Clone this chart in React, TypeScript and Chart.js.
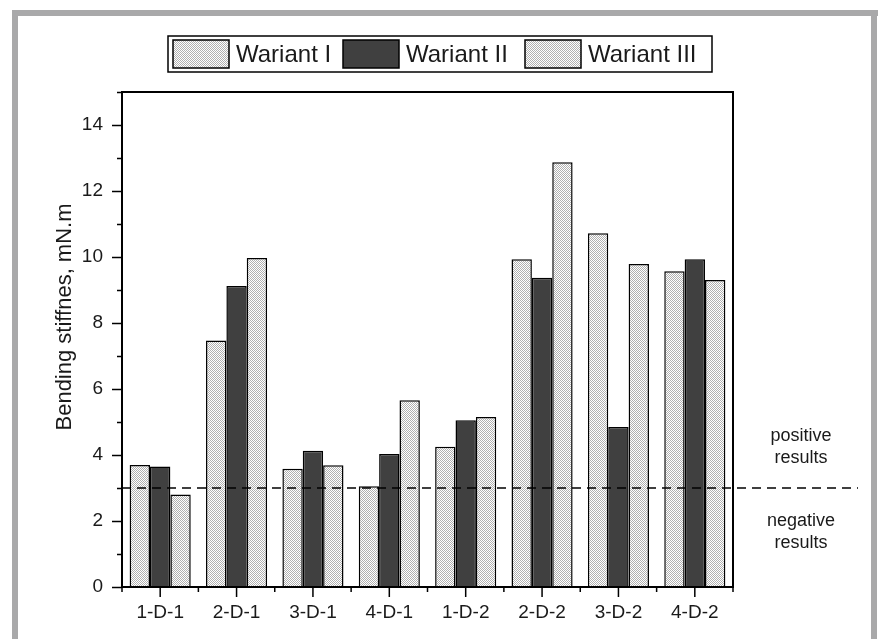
import React, { useEffect, useRef } from "react";
import { Chart, registerables } from "chart.js";

Chart.register(...registerables);

const categories = ["1-D-1", "2-D-1", "3-D-1", "4-D-1", "1-D-2", "2-D-2", "3-D-2", "4-D-2"];
const seriesNames = ["Wariant I", "Wariant II", "Wariant III"];
const wariantI = [3.7, 7.47, 3.58, 3.05, 4.25, 9.93, 10.72, 9.57];
const wariantII = [3.65, 9.12, 4.13, 4.03, 5.05, 9.37, 4.85, 9.93];
const wariantIII = [2.8, 9.97, 3.69, 5.66, 5.15, 12.87, 9.79, 9.3];
const thresholdValue = 3;
const yMax = 15;
const yTickLabels = [0, 2, 4, 6, 8, 10, 12, 14];
const aboveText = ["positive", "results"];
const belowText = ["negative", "results"];
const yTitle = "Bending stiffnes, mN.m";

const FONT = "'Liberation Sans', Arial, Helvetica, sans-serif";

function makePattern(): CanvasPattern | string {
  const c = document.createElement("canvas");
  c.width = 2;
  c.height = 2;
  const g = c.getContext("2d");
  if (!g) return "#d8d8d8";
  g.fillStyle = "#ffffff";
  g.fillRect(0, 0, 2, 2);
  g.fillStyle = "#b0b0b0";
  g.fillRect(0, 0, 1, 1);
  g.fillRect(1, 1, 1, 1);
  const p = g.createPattern(c, "repeat");
  return p || "#d8d8d8";
}

export default function App() {
  const ref = useRef<HTMLCanvasElement | null>(null);

  useEffect(() => {
    if (!ref.current) return;
    const pattern = makePattern();
    const fills = [pattern, "#404040", pattern];
    const values = [wariantI, wariantII, wariantIII];

    const decor = {
      id: "decor",
      afterDatasetsDraw(chart: any) {
        const ctx = chart.ctx;
        const a = chart.chartArea;
        const xs = chart.scales.x;
        const ys = chart.scales.y;
        ctx.save();
        const ty = ys.getPixelForValue(thresholdValue);
        ctx.strokeStyle = "#000";
        ctx.lineWidth = 1.5;
        ctx.setLineDash([9, 6]);
        ctx.beginPath();
        ctx.moveTo(a.left, ty);
        ctx.lineTo(858, ty);
        ctx.stroke();
        ctx.setLineDash([]);
        ctx.lineWidth = 2;
        ctx.strokeRect(a.left, a.top, a.right - a.left, a.bottom - a.top);
        ctx.lineWidth = 1.5;
        ctx.beginPath();
        for (let v = 0; v <= yMax; v++) {
          const y = Math.round(ys.getPixelForValue(v)) + 0.5;
          const len = v % 2 === 0 ? 10 : 5;
          ctx.moveTo(a.left - len, y);
          ctx.lineTo(a.left, y);
        }
        const n = categories.length;
        const band = (a.right - a.left) / n;
        for (let i = 0; i < n; i++) {
          const cx = xs.getPixelForValue(i);
          ctx.moveTo(cx, a.bottom);
          ctx.lineTo(cx, a.bottom + 10);
        }
        for (let i = 0; i <= n; i++) {
          const bx = a.left + i * band;
          ctx.moveTo(bx, a.bottom);
          ctx.lineTo(bx, a.bottom + 5);
        }
        ctx.stroke();
        ctx.restore();
      },
      afterDraw(chart: any) {
        const ctx = chart.ctx;
        ctx.save();
        ctx.fillStyle = "#a9a9aa";
        ctx.fillRect(12, 10, 866, 6);
        ctx.fillRect(12, 10, 6, 640);
        ctx.fillRect(871, 10, 6, 640);
        ctx.fillStyle = "#1a1a1a";
        ctx.font = `22px ${FONT}`;
        ctx.textAlign = "center";
        ctx.textBaseline = "middle";
        ctx.translate(65, 317);
        ctx.rotate(-Math.PI / 2);
        ctx.fillText(yTitle, 0, 0);
        ctx.setTransform(1, 0, 0, 1, 0, 0);
        ctx.font = `18px ${FONT}`;
        ctx.textBaseline = "alphabetic";
        ctx.fillText(aboveText[0], 801, 441);
        ctx.fillText(aboveText[1], 801, 463);
        ctx.fillText(belowText[0], 801, 526);
        ctx.fillText(belowText[1], 801, 548);
        const lx = 168, ly = 36, lw = 544, lh = 36;
        ctx.fillStyle = "#fff";
        ctx.fillRect(lx, ly, lw, lh);
        ctx.strokeStyle = "#000";
        ctx.lineWidth = 1.5;
        ctx.strokeRect(lx, ly, lw, lh);
        const swX = [173, 343, 525];
        ctx.font = `24px ${FONT}`;
        ctx.textAlign = "left";
        ctx.textBaseline = "middle";
        for (let i = 0; i < 3; i++) {
          ctx.fillStyle = fills[i] as any;
          ctx.fillRect(swX[i], 40, 56, 28);
          ctx.strokeRect(swX[i], 40, 56, 28);
          ctx.fillStyle = "#1a1a1a";
          ctx.fillText(seriesNames[i], swX[i] + 63, 55);
        }
        ctx.restore();
      },
    };

    const chart = new Chart(ref.current, {
      type: "bar",
      data: {
        labels: categories,
        datasets: values.map((d, i) => ({
          label: seriesNames[i],
          data: d,
          backgroundColor: fills[i] as any,
          borderColor: "#000",
          borderWidth: 1.5,
          borderSkipped: "bottom",
          categoryPercentage: 0.8,
          barPercentage: 1.0,
        })),
      },
      options: {
        responsive: false,
        animation: false,
        events: [],
        layout: { padding: { left: 0, top: 92, right: 147, bottom: 0 } },
        plugins: { legend: { display: false }, title: { display: false }, tooltip: { enabled: false } },
        scales: {
          x: {
            type: "category",
            offset: true,
            grid: { display: false, drawTicks: false },
            border: { display: false },
            ticks: {
              color: "#1a1a1a",
              font: { family: FONT, size: 19 },
              padding: 14,
              maxRotation: 0,
              autoSkip: false,
            },
            afterFit(s: any) {
              s.height = 52;
            },
          },
          y: {
            min: 0,
            max: yMax,
            grid: { display: false, drawTicks: false },
            border: { display: false },
            ticks: {
              stepSize: 2,
              color: "#1a1a1a",
              font: { family: FONT, size: 19 },
              padding: 19,
              callback: (v: any) => (yTickLabels.includes(Number(v)) ? String(v) : ""),
            },
            afterFit(s: any) {
              s.width = 122;
            },
          },
        },
      },
      plugins: [decor],
    });
    return () => chart.destroy();
  }, []);

  return (
    <div style={{ position: "absolute", left: 0, top: 0, width: 880, height: 639, background: "#fff" }}>
      <canvas ref={ref} width={880} height={639} style={{ display: "block", width: 880, height: 639 }} />
    </div>
  );
}
